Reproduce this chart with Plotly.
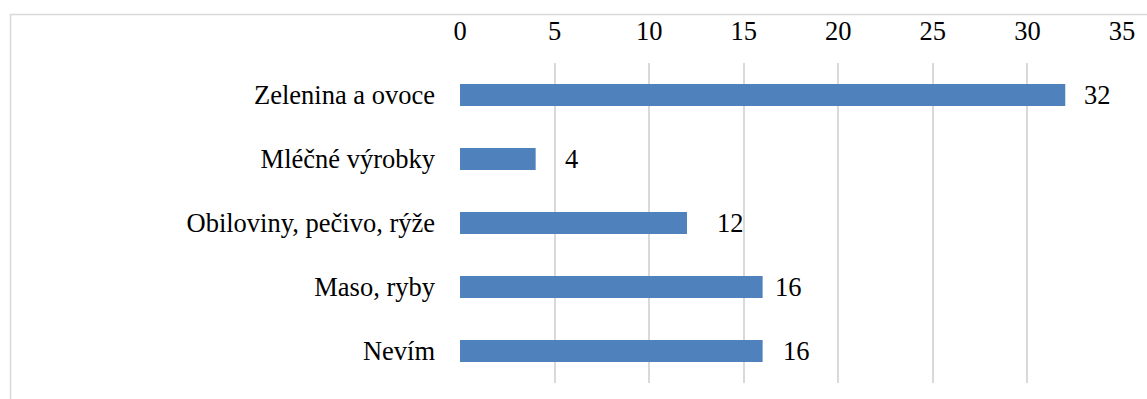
import plotly.graph_objects as go

categories = ["Zelenina a ovoce", "Mléčné výrobky", "Obiloviny, pečivo, rýže", "Maso, ryby", "Nevím"]
values = [32, 4, 12, 16, 16]
tick_values = [0, 5, 10, 15, 20, 25, 30, 35]
label_shift = [17, 27, 28, 10, 18]

FONT = "Liberation Serif"
GRID = "#D9D9D9"
FS = 26.5

fig = go.Figure()
fig.add_trace(go.Bar(
    x=values, y=categories, orientation="h",
    marker=dict(color="#4F81BD", line=dict(width=0)),
    hoverinfo="skip",
))

for v, c, s in zip(values, categories, label_shift):
    fig.add_annotation(x=v, y=c, text=str(v), showarrow=False,
                       xanchor="left", yanchor="middle", xshift=s,
                       font=dict(family=FONT, size=FS, color="black"))

# outer chart border (partially cut off at right/bottom as in reference)
W, H = 1147, 399
L, R, T, B = 459.7, 21.3, 63, 16
pw, ph = W - L - R, H - T - B
fig.add_shape(type="rect", xref="paper", yref="paper",
              x0=(7.5 - L) / pw, x1=(W + 20 - L) / pw,
              y0=-(B + 20) / ph, y1=1 + (T - 14.5) / ph,
              line=dict(color=GRID, width=1.5), fillcolor="rgba(0,0,0,0)", layer="below")

fig.update_layout(
    width=W, height=H,
    margin=dict(l=L, r=R, t=T, b=B),
    plot_bgcolor="white", paper_bgcolor="white",
    showlegend=False,
    bargap=0.656,
    font=dict(family=FONT, size=FS, color="black"),
    xaxis=dict(side="top", range=[0, 35], tickvals=tick_values,
               showgrid=True, gridcolor=GRID, gridwidth=1.5,
               zeroline=False, showline=False, ticks="",
               ticklabelstandoff=17,
               tickfont=dict(family=FONT, size=FS, color="black")),
    yaxis=dict(autorange="reversed", showgrid=False, zeroline=False,
               showline=False, ticks="", ticklabelstandoff=24,
               tickfont=dict(family=FONT, size=FS, color="black")),
)

fig.write_html("out.html")
